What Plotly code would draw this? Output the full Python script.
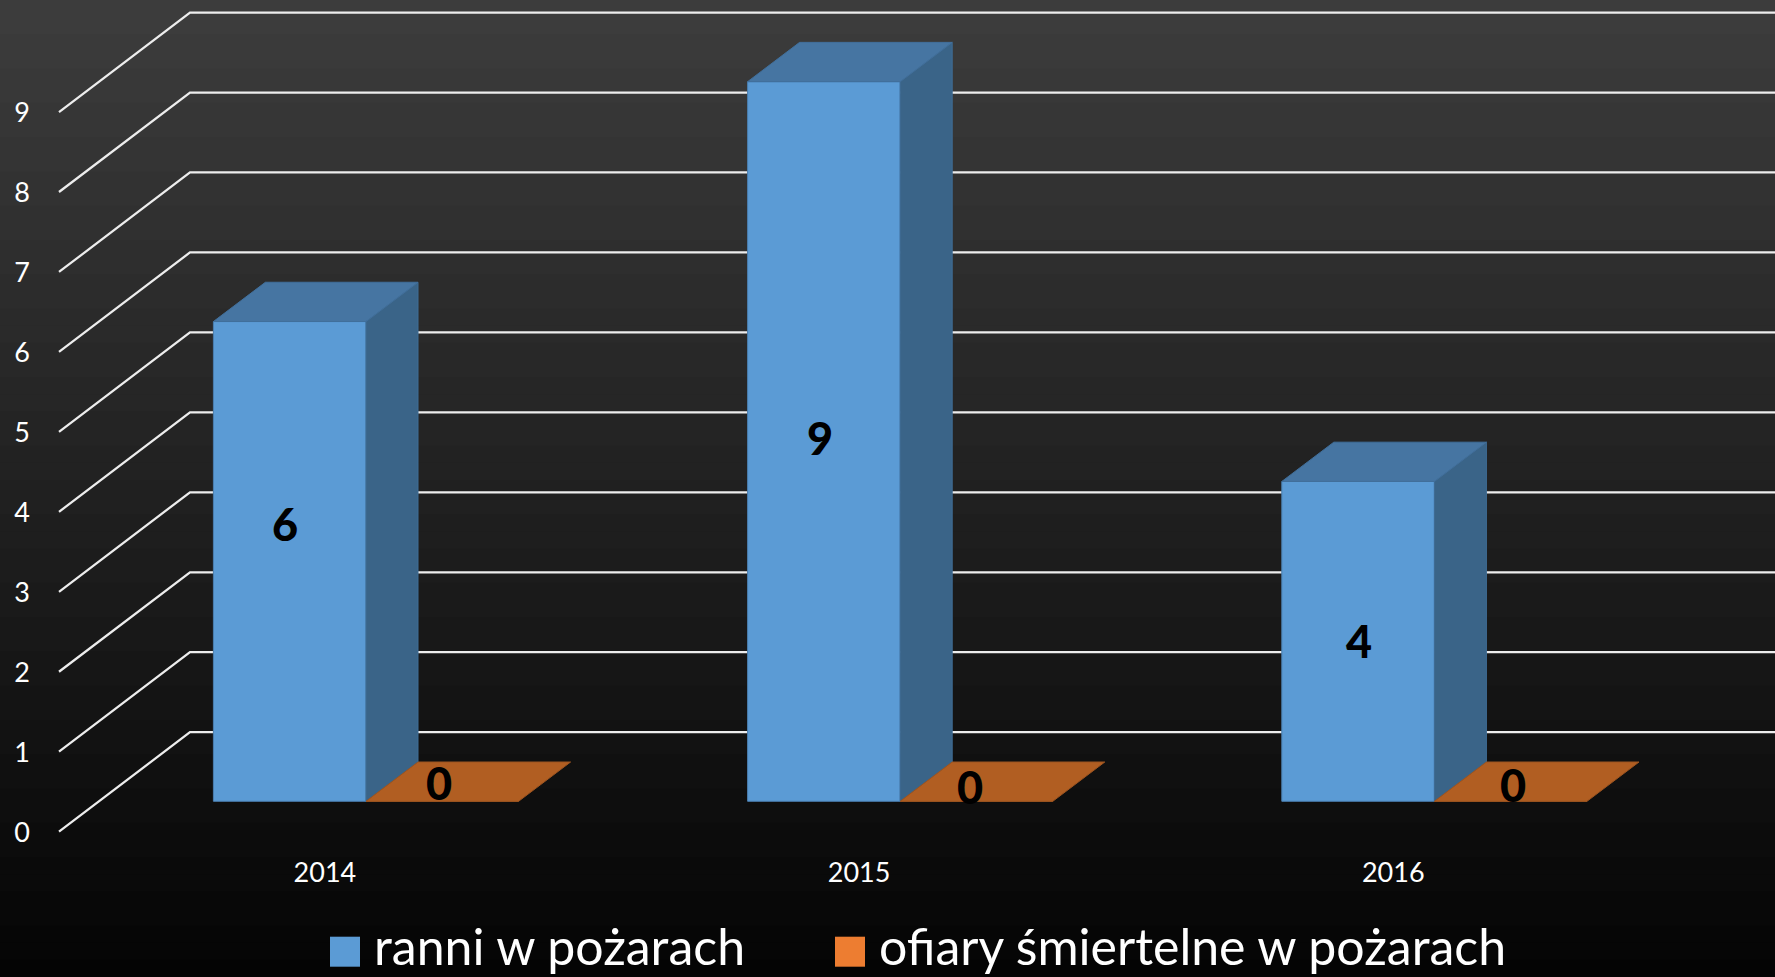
import plotly.graph_objects as go

categories = ["2014", "2015", "2016"]
series_names = ["ranni w pożarach", "ofiary śmiertelne w pożarach"]
ranni = [6, 9, 4]
ofiary = [0, 0, 0]
y_ticks = [0, 1, 2, 3, 4, 5, 6, 7, 8, 9]

W, H = 1775, 977
FONT = "Lato, 'Open Sans', sans-serif"
BLUE, ORANGE = "#5B9BD5", "#ED7D31"
BLUE_SIDE, BLUE_TOP = "#3A6488", "#4675A2"
ORANGE_TOP = "#B15E22"

# geometry of the pseudo-3D projection
PX_X, PX_Y = 534.2, 79.96
X0_PX, Y0_PX = 366.0, 801.3
L, B = 31, 123
PLOT_W, PLOT_H = W - L, H - B
BAR_W = 152.6 / PX_X
BAR_DX, BAR_DY = 52 / PX_X, 39.3 / PX_Y
WALL_DX, WALL_DY = 131 / PX_X, 99.5 / PX_Y
WALL_X = (59 - X0_PX) / PX_X
FRONT_SHIFT = -0.38
TICK_X_SHIFT = -0.077
LABEL_SHIFT = -0.012
xrange_ = [(L - X0_PX) / PX_X, (W - X0_PX) / PX_X]
yrange_ = [(Y0_PX - PLOT_H) / PX_Y, Y0_PX / PX_Y]


def paper_x(px):
    return (px - L) / PLOT_W


def paper_y(py):
    return (PLOT_H - py) / PLOT_H


idx = list(range(len(categories)))
shapes = []

# background gradient: each band runs to the bottom of the page, so no seams show
N = 57
for k in range(N):
    v = round(61 - 57 * (k + 0.5) / N)
    shapes.append(dict(type="rect", xref="paper", yref="paper", layer="below",
                       x0=paper_x(0), x1=paper_x(W),
                       y0=paper_y(H), y1=paper_y(k * H / N),
                       line_width=0, fillcolor=f"rgb({v},{v},{v})"))

# walls: diagonal on the left side plus horizontal on the back
for t in y_ticks:
    front = t + FRONT_SHIFT
    back = front + WALL_DY
    xb = WALL_X + WALL_DX
    shapes.append(dict(type="path", xref="x", yref="y", layer="below",
                       path=f"M{WALL_X},{front} L{xb},{back} L{xrange_[1]},{back}",
                       line=dict(color="#EDEDED", width=2.25)))

# legend keys
legend_keys = [(330, BLUE), (835, ORANGE)]
for px, col in legend_keys:
    shapes.append(dict(type="rect", xref="paper", yref="paper", layer="above",
                       x0=paper_x(px), x1=paper_x(px + 30),
                       y0=paper_y(966.7), y1=paper_y(936.7),
                       line_width=0, fillcolor=col))


def poly_trace(polys, color, line):
    xs, ys = [], []
    for p in polys:
        xs += [a for a, _ in p] + [p[0][0], None]
        ys += [b for _, b in p] + [p[0][1], None]
    return go.Scatter(x=xs, y=ys, mode="lines", fill="toself", fillcolor=color,
                      line=dict(color=line, width=1), showlegend=False, hoverinfo="skip")


fig = go.Figure()

# front faces
fig.add_trace(go.Bar(x=[i - BAR_W / 2 for i in idx], y=ranni, width=BAR_W, name=series_names[0],
                     marker=dict(color=BLUE, line=dict(color="#4A7FB0", width=1)),
                     showlegend=False, hoverinfo="skip"))
fig.add_trace(go.Bar(x=[i + BAR_W / 2 for i in idx], y=ofiary, width=BAR_W, name=series_names[1],
                     marker=dict(color=ORANGE, line=dict(color="#8A4A1A", width=1)),
                     showlegend=False, hoverinfo="skip"))

# side and top faces
sides, tops, o_tops = [], [], []
for i, v, o in zip(idx, ranni, ofiary):
    sides.append([(i, 0), (i + BAR_DX, BAR_DY), (i + BAR_DX, v + BAR_DY), (i, v)])
    tops.append([(i - BAR_W, v), (i - BAR_W + BAR_DX, v + BAR_DY), (i + BAR_DX, v + BAR_DY), (i, v)])
    o_tops.append([(i, o), (i + BAR_DX, o + BAR_DY), (i + BAR_W + BAR_DX, o + BAR_DY), (i + BAR_W, o)])
fig.add_trace(poly_trace(sides, BLUE_SIDE, "#3F6C94"))
fig.add_trace(poly_trace(tops, BLUE_TOP, "#416F9B"))
fig.add_trace(poly_trace(o_tops, ORANGE_TOP, "#9C5420"))

annotations = []

# data labels: centred on the bar, nudged as in the reference
blue_nudge = [(-5, -37), (-4, -3), (1, 0)]
orange_nudge = [(-29, 1), (-33, 5), (-24, 3)]
LABEL_FONT = dict(family=FONT, size=45, color="#000000", weight=900)
for i, v, (dx, dy) in zip(idx, ranni, blue_nudge):
    annotations.append(dict(x=i - BAR_W / 2, y=v / 2, xref="x", yref="y", text=str(v), showarrow=False,
                            xshift=dx, yshift=-dy, font=LABEL_FONT))
for i, v, (dx, dy) in zip(idx, ofiary, orange_nudge):
    annotations.append(dict(x=i + (BAR_W + BAR_DX) / 2, y=v + BAR_DY / 2, xref="x", yref="y", text=str(v),
                            showarrow=False, xshift=dx, yshift=-dy, font=LABEL_FONT))

# legend labels
for px, name in zip([372, 877], series_names):
    annotations.append(dict(x=paper_x(px), y=paper_y(946), xref="paper", yref="paper", text=name,
                            showarrow=False, xanchor="left", yanchor="middle",
                            font=dict(family=FONT, size=50, color="#FFFFFF")))

fig.update_layout(
    width=W, height=H,
    margin=dict(l=L, r=0, t=0, b=B, autoexpand=False),
    paper_bgcolor="#000000", plot_bgcolor="rgba(0,0,0,0)",
    barmode="overlay", showlegend=False,
    shapes=shapes, annotations=annotations,
    xaxis=dict(range=xrange_, showgrid=False, zeroline=False, showline=False, ticks="",
               tickmode="array", tickvals=[i + TICK_X_SHIFT for i in idx], ticktext=categories,
               tickfont=dict(family=FONT, size=27, color="#FFFFFF")),
    yaxis=dict(range=yrange_, showgrid=False, zeroline=False, showline=False, ticks="",
               tickmode="array", tickvals=[t + FRONT_SHIFT + LABEL_SHIFT for t in y_ticks],
               ticktext=[str(t) for t in y_ticks],
               tickfont=dict(family=FONT, size=27, color="#FFFFFF")),
)

fig.write_html("out.html", config={"displayModeBar": False},
               post_script="document.body.style.margin='0';document.documentElement.style.overflow='hidden';")
